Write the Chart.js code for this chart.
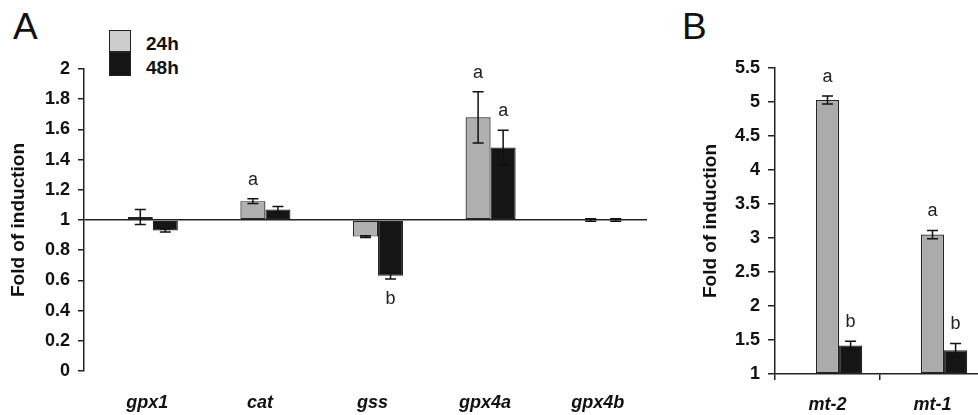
<!DOCTYPE html>
<html>
<head>
<meta charset="utf-8">
<script src="https://cdn.jsdelivr.net/npm/chart.js@4.4.1/dist/chart.umd.min.js"></script>
<style>
html,body{margin:0;padding:0;width:978px;height:415px;overflow:hidden;background:#fff;}
body{position:relative;font-family:"Liberation Sans",Arial,sans-serif;}
.panel{position:absolute;font-size:37px;line-height:1;color:#111;}
.lg{position:absolute;font-weight:bold;font-size:19px;line-height:1;color:#111;}
.box{position:absolute;width:22px;height:22px;border:1px solid #222;box-sizing:border-box;}
</style>
</head>
<body>
<div class="panel" style="left:13px;top:8px;">A</div>
<div class="panel" style="left:682px;top:8px;">B</div>
<div class="box" style="left:109px;top:30px;background:#cccccc;"></div>
<div class="box" style="left:109px;top:52px;height:24px;background:#151515;"></div>
<div class="lg" style="left:146px;top:34px;">24h</div>
<div class="lg" style="left:146px;top:58px;">48h</div>
<canvas id="ca" width="660" height="415" style="position:absolute;left:0;top:0;"></canvas>
<canvas id="cb" width="300" height="415" style="position:absolute;left:690px;top:0;"></canvas>
<script>
// ---- Data ----
const seriesNames = ['24h', '48h'];
const genesA = ['gpx1', 'cat', 'gss', 'gpx4a', 'gpx4b'];
const a24 = [1.02, 1.125, 0.89, 1.68, 1.0];
const a24Err = [0.05, 0.015, 0.006, 0.17, 0.008];
const a48 = [0.93, 1.07, 0.63, 1.48, 1.0];
const a48Err = [0.01, 0.02, 0.02, 0.115, 0.008];
const a24Sig = ['', 'a', '', 'a', ''];
const a48Sig = ['', '', 'b', 'a', ''];

const genesB = ['mt-2', 'mt-1'];
const b24 = [5.03, 3.05];
const b24Err = [0.06, 0.06];
const b48 = [1.42, 1.35];
const b48Err = [0.06, 0.10];
const b24Sig = ['a', 'a'];
const b48Sig = ['b', 'b'];

const yTitle = 'Fold of induction';
const yTicksA = {min: 0, max: 2, step: 0.2};
const yTicksB = {min: 1, max: 5.5, step: 0.5};

// ---- Plugins ----
const errorBarPlugin = {
  id: 'errorBars',
  afterDatasetsDraw(chart) {
    const ctx = chart.ctx;
    const ys = chart.scales.y;
    chart.data.datasets.forEach((ds, di) => {
      if (!ds.errors) return;
      const meta = chart.getDatasetMeta(di);
      meta.data.forEach((el, i) => {
        const v = ds.data[i], e = ds.errors[i];
        if (v == null) return;
        const x = el.x;
        const yT = ys.getPixelForValue(v + e);
        const yB = ys.getPixelForValue(v - e);
        ctx.save();
        ctx.strokeStyle = '#111';
        ctx.lineWidth = 1.5;
        ctx.beginPath();
        ctx.moveTo(x, yT); ctx.lineTo(x, yB);
        ctx.moveTo(x - 5.5, yT); ctx.lineTo(x + 5.5, yT);
        ctx.moveTo(x - 5.5, yB); ctx.lineTo(x + 5.5, yB);
        ctx.stroke();
        const s = ds.letters ? ds.letters[i] : '';
        if (s) {
          ctx.fillStyle = '#222';
          ctx.font = '18px "Liberation Sans", Arial, sans-serif';
          ctx.textAlign = 'center';
          ctx.textBaseline = 'middle';
          const ly = v >= 1 ? yT - 19 : yB + 20;
          ctx.fillText(s, x, ly);
        }
        ctx.restore();
      });
    });
  }
};

function fmt(v) { return String(+Number(v).toFixed(2)); }

function makeChart(id, labels, d24, e24, s24, d48, e48, s48, yt, opts) {
  return new Chart(document.getElementById(id), {
    type: 'bar',
    data: {
      labels: labels,
      datasets: [
        {label: '', data: labels.map(() => null)},
        {label: seriesNames[0], data: d24, errors: e24, letters: s24, base: 1,
         backgroundColor: opts.gray, borderColor: '#222', borderWidth: 1.2, borderSkipped: false},
        {label: seriesNames[1], data: d48, errors: e48, letters: s48, base: 1,
         backgroundColor: '#151515', borderColor: '#222', borderWidth: 1.2, borderSkipped: false}
      ]
    },
    options: {
      responsive: false,
      animation: false,
      devicePixelRatio: 1,
      categoryPercentage: opts.catPct,
      barPercentage: 1,
      layout: {padding: opts.padding},
      plugins: {legend: {display: false}, tooltip: {enabled: false}},
      scales: {
        x: {
          afterFit: s => { s.height = opts.xH; },
          border: {display: opts.xBorder, color: '#222', width: 1.5},
          grid: {display: opts.xBorder, drawOnChartArea: false, drawTicks: opts.xBorder, tickLength: 6, color: '#222', lineWidth: 1.5, offset: true},
          ticks: {color: '#111', padding: opts.xPad, labelOffset: opts.xLabelOffset,
                  font: {family: '"Liberation Sans", Arial, sans-serif', size: 18, weight: 'bold', style: 'italic'}}
        },
        y: {
          min: yt.min, max: yt.max,
          afterFit: s => { s.width = opts.yW; },
          border: {display: true, color: '#222', width: 1.5},
          grid: {
            display: true,
            drawOnChartArea: opts.refLine,
            color: c => (opts.refLine && Math.abs(c.tick.value - 1) < 1e-6) ? '#222' : 'rgba(0,0,0,0)',
            lineWidth: 1.5,
            tickColor: '#222',
            tickLength: opts.tickLen
          },
          ticks: {stepSize: yt.step, color: '#111', padding: 8, callback: fmt,
                  font: {family: '"Liberation Sans", Arial, sans-serif', size: 18, weight: 'bold'}},
          title: {display: true, text: yTitle, color: '#111', padding: opts.titlePad,
                  font: {family: '"Liberation Sans", Arial, sans-serif', size: 19, weight: 'bold'}}
        }
      }
    },
    plugins: [errorBarPlugin]
  });
}

makeChart('ca', genesA, a24, a24Err, a24Sig, a48, a48Err, a48Sig, yTicksA, {
  gray: '#b0b0b0', catPct: 0.667, padding: {top: 69, right: 13, left: 0, bottom: 0},
  xH: 44, xBorder: false, xPad: 21, xLabelOffset: 7, yW: 84, refLine: true, tickLen: 6,
  titlePad: {top: 7, bottom: 0}
});
makeChart('cb', genesB, b24, b24Err, b24Sig, b48, b48Err, b48Sig, yTicksB, {
  gray: '#ababab', catPct: 0.66, padding: {top: 68, right: 5, left: 0, bottom: 0},
  xH: 41, xBorder: true, xPad: 14, xLabelOffset: 0, yW: 85, refLine: false, tickLen: 7,
  titlePad: {top: 9, bottom: 0}
});
</script>
</body>
</html>
